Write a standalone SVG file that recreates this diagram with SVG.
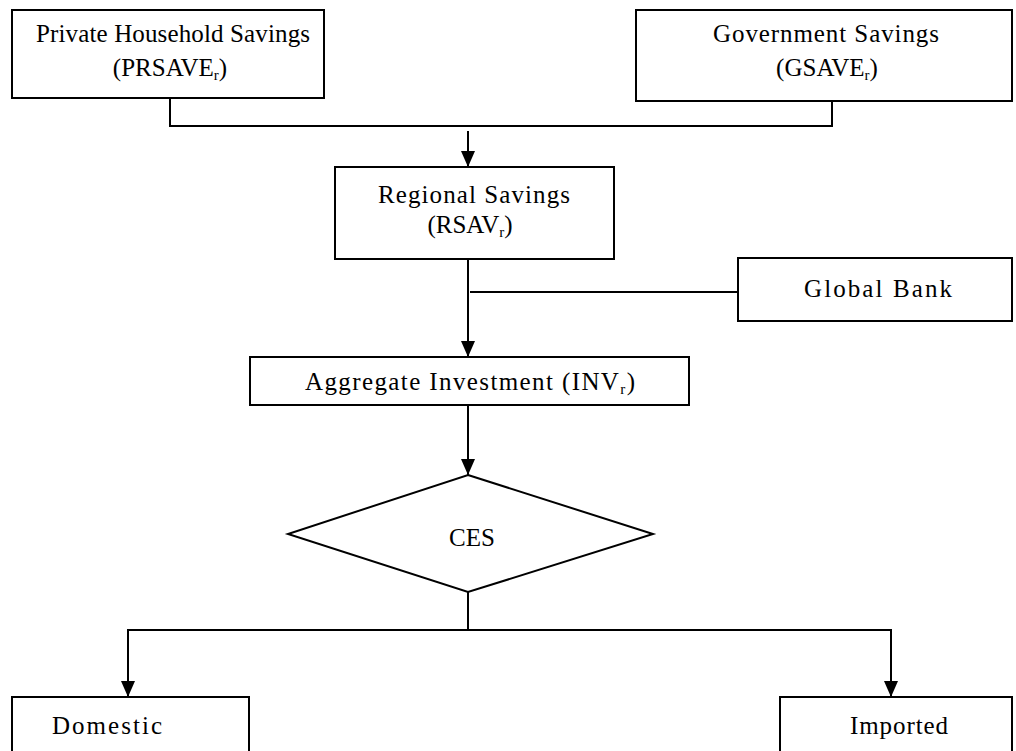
<svg xmlns="http://www.w3.org/2000/svg" width="1016" height="751" viewBox="0 0 1016 751">
  <defs>
    <marker id="arrow" viewBox="0 0 16 14" refX="16" refY="7" markerWidth="16" markerHeight="14" markerUnits="userSpaceOnUse" orient="auto-start-reverse">
      <path d="M0,0 L16,7 L0,14 Z" fill="#000"/>
    </marker>
  </defs>
  <style>
    .box { fill: #fff; stroke: #000; stroke-width: 2; }
    .wire { fill: none; stroke: #000; stroke-width: 2; }
    .lbl { font-family: "Liberation Serif", "Times New Roman", serif; font-size: 25px; fill: #000; text-anchor: middle; }
    .sub { font-size: 15px; }
  </style>
  <rect width="1016" height="751" fill="#fff"/>

  <!-- connectors -->
  <g id="connectors">
    <polyline class="wire" points="170,98 170,126 832,126 832,101"/>
    <line class="wire" x1="468" y1="131" x2="468" y2="167" marker-end="url(#arrow)"/>
    <line class="wire" x1="468" y1="259" x2="468" y2="357" marker-end="url(#arrow)"/>
    <line class="wire" x1="470" y1="292" x2="738" y2="292"/>
    <line class="wire" x1="468" y1="405" x2="468" y2="475" marker-end="url(#arrow)"/>
    <line class="wire" x1="468" y1="592" x2="468" y2="630"/>
    <polyline class="wire" points="128,697 128,630 891,630 891,697" marker-start="url(#arrow)" marker-end="url(#arrow)"/>
  </g>

  <g id="private-savings">
    <rect class="box" x="12" y="10" width="312" height="88"/>
    <text class="lbl" x="173" y="42" textLength="274" lengthAdjust="spacing">Private Household Savings</text>
    <text class="lbl" x="170" y="76">(PRSAVE<tspan class="sub" dy="4">r</tspan><tspan dy="-4">)</tspan></text>
  </g>

  <g id="government-savings">
    <rect class="box" x="636" y="10" width="376" height="91"/>
    <text class="lbl" x="826" y="42" textLength="226" lengthAdjust="spacing">Government Savings</text>
    <text class="lbl" x="827" y="76">(GSAVE<tspan class="sub" dy="4">r</tspan><tspan dy="-4">)</tspan></text>
  </g>

  <g id="regional-savings">
    <rect class="box" x="335" y="167" width="279" height="92"/>
    <text class="lbl" x="474" y="203" textLength="192" lengthAdjust="spacing">Regional Savings</text>
    <text class="lbl" x="470" y="233">(RSAV<tspan class="sub" dy="4">r</tspan><tspan dy="-4">)</tspan></text>
  </g>

  <g id="global-bank">
    <rect class="box" x="738" y="258" width="274" height="63"/>
    <text class="lbl" x="878" y="297" textLength="148" lengthAdjust="spacing">Global Bank</text>
  </g>

  <g id="aggregate-investment">
    <rect class="box" x="250" y="357" width="439" height="48"/>
    <text class="lbl" x="470" y="390" textLength="330" lengthAdjust="spacing">Aggregate Investment (INV<tspan class="sub" dy="4">r</tspan><tspan dy="-4">)</tspan></text>
  </g>

  <g id="ces">
    <polygon class="box" points="468,475 653,534 468,592 288,534"/>
    <text class="lbl" x="472" y="546">CES</text>
  </g>

  <g id="domestic">
    <rect class="box" x="12" y="697" width="237" height="70"/>
    <text class="lbl" x="107" y="734" textLength="110" lengthAdjust="spacing">Domestic</text>
  </g>

  <g id="imported">
    <rect class="box" x="780" y="697" width="232" height="70"/>
    <text class="lbl" x="899" y="734" textLength="98" lengthAdjust="spacing">Imported</text>
  </g>
</svg>
